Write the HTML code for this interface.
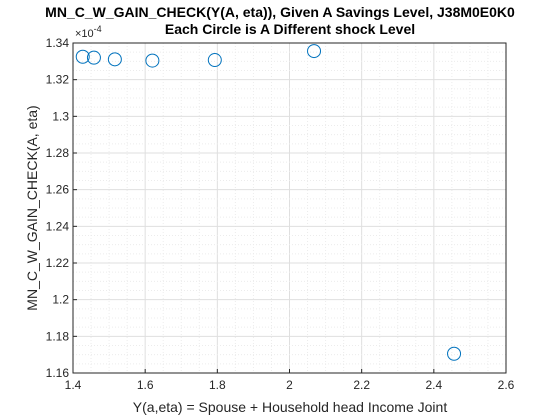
<!DOCTYPE html>
<html><head><style>
body{margin:0;background:#fff;}
svg{display:block;font-family:"Liberation Sans",sans-serif;}
</style></head><body>
<svg id="chart" width="560" height="420">
<rect width="560" height="420" fill="#fff"/>
<rect x="73" y="43" width="433" height="330" fill="#fff"/>
<g id="grid"></g><g id="ticks"></g><g id="pts"></g>
<rect x="73" y="43" width="433" height="330" fill="none" stroke="#262626" stroke-width="1"/>
<text x="280" y="17" text-anchor="middle" font-size="14" font-weight="bold" fill="#000">MN_C_W_GAIN_CHECK(Y(A, eta)), Given A Savings Level, J38M0E0K0</text>
<text x="290" y="34" text-anchor="middle" font-size="14" font-weight="bold" fill="#000">Each Circle is A Different shock Level</text>
<text x="75" y="37" font-size="11" fill="#262626">×10<tspan dy="-5" font-size="9">-4</tspan></text>
<text x="290" y="412" text-anchor="middle" font-size="14" fill="#262626">Y(a,eta) = Spouse + Household head Income Joint</text>
<text transform="translate(37,208) rotate(-90)" text-anchor="middle" font-size="14" fill="#262626">MN_C_W_GAIN_CHECK(A, eta)</text>
</svg>
<script>
const xVals=[1.427,1.458,1.516,1.620,1.793,2.068,2.456];
const yVals=[1.3325,1.3320,1.3311,1.3304,1.3307,1.3356,1.1705];
const xTicks=[1.4,1.6,1.8,2,2.2,2.4,2.6];
const yTicks=[1.16,1.18,1.2,1.22,1.24,1.26,1.28,1.3,1.32,1.34];
const L=73,R=506,T=43,B=373;
const xs=v=>L+(v-1.4)/1.2*(R-L);
const ys=v=>B-(v-1.16)/0.18*(B-T);
const NS="http://www.w3.org/2000/svg";
function mk(t,a,p){const e=document.createElementNS(NS,t);for(const k in a)e.setAttribute(k,a[k]);p.appendChild(e);return e;}
const g=document.getElementById('grid'),tk=document.getElementById('ticks'),pg=document.getElementById('pts');
for(let i=0;i<=24;i++){const x=xs(1.4+i*0.05);const major=i%4===0;
 const l=mk('line',{x1:x,x2:x,y1:T,y2:B,stroke:major?'#dfdfdf':'#ececec','stroke-dasharray':major?'':'1,2'},g);
 
 }
for(let i=0;i<=36;i++){const y=ys(1.16+i*0.005);const major=i%4===0;
 const l=mk('line',{x1:L,x2:R,y1:y,y2:y,stroke:major?'#dfdfdf':'#ececec','stroke-dasharray':major?'':'1,2'},g);
 
 }
xTicks.forEach(v=>{const x=xs(v);
 mk('line',{x1:x,x2:x,y1:B,y2:B-4,stroke:'#262626'},tk);
 const t=mk('text',{x:x,y:B+16,'text-anchor':'middle','font-size':12,fill:'#262626'},tk);t.textContent=String(v);
 
 });
yTicks.forEach(v=>{const y=ys(v);
 mk('line',{x1:L,x2:L+4,y1:y,y2:y,stroke:'#262626'},tk);
 const t=mk('text',{x:L-4,y:y+4,'text-anchor':'end','font-size':12,fill:'#262626'},tk);t.textContent=v.toFixed(2).replace(/0$/,'').replace(/\.$/,'').replace(/^1\.2$/,'1.2').replace(/^1\.3$/,'1.3');
 
 });
xVals.forEach((v,i)=>{
 const c=mk('circle',{cx:xs(v),cy:ys(yVals[i]),r:6.5,fill:'none',stroke:'#0072bd','stroke-width':1},pg);
 
 });
</script>
</body></html>
